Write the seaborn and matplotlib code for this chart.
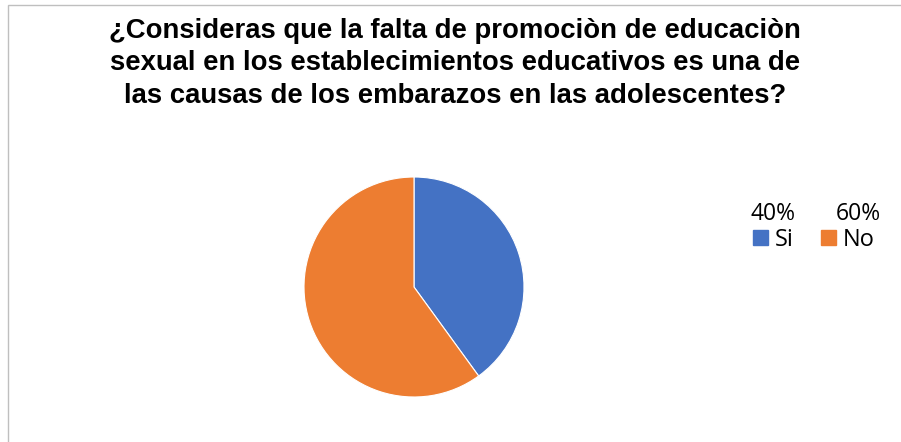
import matplotlib.pyplot as plt
import matplotlib.patches as mpatches
import seaborn as sns

labels = ["Si", "No"]
values = [40, 60]
colors = ["#4472C4", "#ED7D31"]
title = ("¿Consideras que la falta de promociòn de educaciòn\n"
         "sexual en los establecimientos educativos es una de\n"
         "las causas de los embarazos en las adolescentes?")

sns.set_style("white")
plt.rcParams["font.family"] = ["Liberation Sans", "DejaVu Sans"]
plt.rcParams["text.color"] = "black"

fig = plt.figure(figsize=(9.01, 4.42), dpi=100)

# chart border
fig.patches.append(mpatches.Rectangle((8 / 901, -0.1), 1.0, 1 - 5 / 442 + 0.1,
                                      transform=fig.transFigure, fill=False,
                                      edgecolor="#BFBFBF", linewidth=1.0))

fig.text(0.505, 1 - 18 / 442, title, ha="center", va="top", fontsize=19.8,
         fontweight="bold", linespacing=1.32, color="black")

# pie centred at (414, 287), radius ~110 px
r = 110
ax = fig.add_axes([(414 - r) / 901, (442 - 287 - r) / 442, 2 * r / 901, 2 * r / 442])
ax.pie(values, colors=colors, startangle=90, counterclock=False,
       wedgeprops=dict(edgecolor="white", linewidth=0.8))
ax.set_xlim(-1, 1)
ax.set_ylim(-1, 1)
ax.set_aspect("equal")
ax.axis("off")

# legend with percentages above entries
handles = [mpatches.Patch(color=c) for c in colors]
fig.legend(handles, labels, loc="center left", bbox_to_anchor=(744 / 901, 1 - 240 / 442),
           ncol=2, frameon=False, handlelength=0.62, handleheight=0.62,
           handletextpad=0.3, columnspacing=1.15, borderaxespad=0, labelcolor="black",
           prop={"family": ["Open Sans", "DejaVu Sans"], "size": 17})
pct_x = [773, 858]
for x, v in zip(pct_x, values):
    fig.text(x / 901, 1 - 214 / 442, f"{v}%", ha="center", va="center", fontsize=16.5,
             family=["Open Sans", "DejaVu Sans"], color="black")

fig.savefig("out.png", dpi=100)
